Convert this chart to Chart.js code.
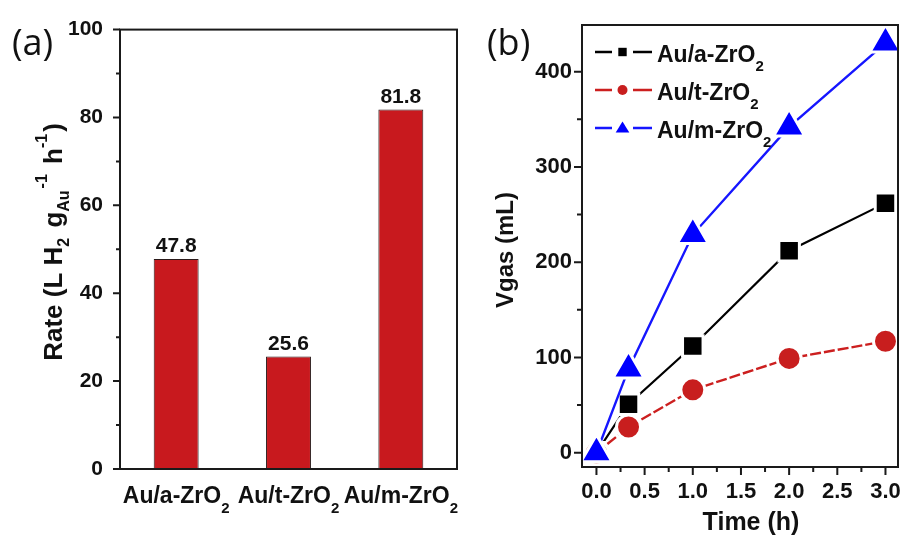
<!DOCTYPE html>
<html><head><meta charset="utf-8">
<script src="https://cdn.jsdelivr.net/npm/chart.js@4.4.1/dist/chart.umd.min.js"></script>
<style>
html,body{margin:0;padding:0;background:#fff;overflow:hidden;width:919px;height:535px}
#ca{position:absolute;left:0;top:0}
#cb{position:absolute;left:460px;top:0}
</style></head><body>
<canvas id="ca" width="460" height="535"></canvas>
<canvas id="cb" width="459" height="535"></canvas>
<script>
// ---- data: panel (a) ----
const categories = ['Au/a-ZrO₂', 'Au/t-ZrO₂', 'Au/m-ZrO₂'];
const rates = [47.8, 25.6, 81.8];
const rateTicks = [0, 20, 40, 60, 80, 100];
const rateMinorTicks = [10, 30, 50, 70, 90];
// ---- data: panel (b) ----
const seriesNames = ['Au/a-ZrO₂', 'Au/t-ZrO₂', 'Au/m-ZrO₂'];
const times = [0, 0.333, 1, 2, 3];
const vgasA = [0, 51, 112, 212, 262];
const vgasT = [0, 27, 66, 99, 117];
const vgasM = [0, 88, 229, 342, 430];
const timeTicks = [0, 0.5, 1, 1.5, 2, 2.5, 3];
const timeMinorTicks = [0.25, 0.75, 1.25, 1.75, 2.25, 2.75];
const vgasTicks = [0, 100, 200, 300, 400];
const vgasMinorTicks = [50, 150, 250, 350];

const FONT = '"Liberation Sans", Arial, sans-serif';
const INK = '#111';
const AXIS = '#1a1a1a';

function parseRich(str) {
  const parts = []; let buf = '';
  for (const ch of str) {
    if (ch === '₂') { if (buf) parts.push({t: buf, k: 'n'}); buf = ''; parts.push({t: '2', k: 'sub'}); }
    else buf += ch;
  }
  if (buf) parts.push({t: buf, k: 'n'});
  return parts;
}
function drawRich(ctx, parts, x, y, size, align, opts) {
  opts = opts || {};
  const small = Math.round(size * (opts.smallRatio || 0.65));
  const subOff = size * (opts.sub || 0.4), supOff = size * (opts.sup || 0.5);
  const fontOf = p => `bold ${p.k === 'n' ? size : small}px ${FONT}`;
  let w = 0;
  for (const p of parts) { ctx.font = fontOf(p); w += ctx.measureText(p.t).width + (p.gap || 0); }
  let cx = align === 'center' ? x - w / 2 : (align === 'right' ? x - w : x);
  ctx.fillStyle = INK; ctx.textBaseline = 'alphabetic'; ctx.textAlign = 'left';
  for (const p of parts) {
    ctx.font = fontOf(p);
    const dy = p.k === 'sub' ? subOff : (p.k === 'sup' ? -supOff : 0);
    ctx.fillText(p.t, cx, y + dy);
    cx += ctx.measureText(p.t).width + (p.gap || 0);
  }
}
function frameAndTicks(ctx, a, xs, ys, spec) {
  ctx.save();
  ctx.strokeStyle = AXIS; ctx.lineWidth = 2;
  ctx.strokeRect(a.left, a.top, a.right - a.left, a.bottom - a.top);
  ctx.beginPath();
  if (spec.yMajor) spec.yMajor.forEach(v => { const y = ys.getPixelForValue(v); ctx.moveTo(a.left - spec.yLen, y); ctx.lineTo(a.left, y); });
  if (spec.yMinor) spec.yMinor.forEach(v => { const y = ys.getPixelForValue(v); ctx.moveTo(a.left - spec.yLenMinor, y); ctx.lineTo(a.left, y); });
  if (spec.xMajor) spec.xMajor.forEach(v => { const x = xs.getPixelForValue(v); ctx.moveTo(x, a.bottom); ctx.lineTo(x, a.bottom + spec.xLen); });
  if (spec.xMinor) spec.xMinor.forEach(v => { const x = xs.getPixelForValue(v); ctx.moveTo(x, a.bottom); ctx.lineTo(x, a.bottom + spec.xLenMinor); });
  ctx.stroke();
  ctx.restore();
}

// ---------------- Panel (a) ----------------
const panelA = {
  id: 'panelA',
  afterDraw(chart) {
    const ctx = chart.ctx, a = chart.chartArea, xs = chart.scales.x, ys = chart.scales.y;
    frameAndTicks(ctx, a, xs, ys, {yMajor: rateTicks, yMinor: rateMinorTicks, yLen: 7, yLenMinor: 4});
    ctx.save();
    // value labels
    const meta = chart.getDatasetMeta(0);
    ctx.font = `bold 21px ${FONT}`; ctx.fillStyle = INK; ctx.textAlign = 'center'; ctx.textBaseline = 'alphabetic';
    meta.data.forEach((el, i) => ctx.fillText(rates[i].toFixed(1), el.x, el.y - 7));
    // category labels
    categories.forEach((c, i) => drawRich(ctx, parseRich(c), xs.getPixelForValue(i), 503, 23, 'center', {sub: 0.44}));
    // y title
    ctx.save();
    ctx.translate(62, 242);
    ctx.rotate(-Math.PI / 2);
    drawRich(ctx, [
      {t: 'Rate (L H', k: 'n'}, {t: '2', k: 'sub', gap: 3}, {t: ' g', k: 'n'}, {t: 'Au', k: 'sub', gap: 2},
      {t: '-1', k: 'sup', gap: 3}, {t: ' h', k: 'n'}, {t: '-1', k: 'sup', gap: 2}, {t: ')', k: 'n'}
    ], 0, 0, 26, 'center', {sub: 0.26, sup: 0.58, smallRatio: 0.62});
    ctx.restore();
    // panel letter
    ctx.font = `36px "Open Sans", "Noto Sans", sans-serif`; ctx.fillStyle = INK; ctx.textAlign = 'left';
    ctx.fillText('(a)', 12, 55);
    ctx.restore();
  }
};

new Chart(document.getElementById('ca'), {
  type: 'bar',
  data: {
    labels: categories,
    datasets: [{
      data: rates,
      backgroundColor: '#c8191e',
      borderColor: '#2a1a1a',
      borderWidth: 1,
      barPercentage: 0.4,
      categoryPercentage: 1.0
    }]
  },
  options: {
    responsive: false,
    animation: false,
    layout: {padding: {left: 0, top: 25, right: 3, bottom: 0}},
    plugins: {legend: {display: false}, tooltip: {enabled: false}},
    scales: {
      x: {
        grid: {display: false}, border: {display: false},
        ticks: {display: false},
        afterFit: s => { s.height = 66; }
      },
      y: {
        min: 0, max: 100,
        grid: {display: false, drawTicks: false}, border: {display: false},
        afterBuildTicks: s => { s.ticks = rateTicks.map(v => ({value: v})); },
        ticks: {font: {family: FONT, size: 21, weight: 'bold'}, color: INK, padding: 17},
        afterFit: s => { s.width = 120; }
      }
    }
  },
  plugins: [panelA]
});

// ---------------- Panel (b) ----------------
const styles = [
  {line: '#000000', fill: '#000000', point: 'rect', r: 14.5, dash: [], lw: 2.2},
  {line: '#cc1f1f', fill: '#c81e1e', point: 'circle', r: 12, dash: [11, 3], lw: 2.4},
  {line: '#1616ff', fill: '#0000ff', point: 'triangle', r: 18, dash: [], lw: 2.4}
];
const seriesValues = [vgasA, vgasT, vgasM];

function legendMarker(ctx, kind, x, y, color) {
  ctx.fillStyle = color;
  ctx.beginPath();
  if (kind === 'rect') ctx.rect(x - 4.2, y - 4.2, 8.4, 8.4);
  else if (kind === 'circle') ctx.arc(x, y, 5, 0, Math.PI * 2);
  else { ctx.moveTo(x, y - 6.5); ctx.lineTo(x + 6.8, y + 4.5); ctx.lineTo(x - 6.8, y + 4.5); ctx.closePath(); }
  ctx.fill();
}

const panelB = {
  id: 'panelB',
  afterDraw(chart) {
    const ctx = chart.ctx, a = chart.chartArea, xs = chart.scales.x, ys = chart.scales.y;
    frameAndTicks(ctx, a, xs, ys, {
      yMajor: vgasTicks, yMinor: vgasMinorTicks, yLen: 8, yLenMinor: 5,
      xMajor: timeTicks, xMinor: timeMinorTicks, xLen: 8, xLenMinor: 5
    });
    ctx.save();
    // legend
    seriesNames.forEach((name, i) => {
      const st = styles[i];
      const ly = 52 + 38 * i;
      ctx.strokeStyle = st.line; ctx.lineWidth = 2.4; ctx.setLineDash([]);
      ctx.beginPath();
      ctx.moveTo(135, ly); ctx.lineTo(152, ly);
      ctx.moveTo(173, ly); ctx.lineTo(192, ly);
      ctx.stroke();
      legendMarker(ctx, st.point, 162.5, ly, st.fill);
      drawRich(ctx, parseRich(name), 197, ly + 10, 23, 'left', {sub: 0.38});
    });
    // axis titles
    ctx.font = `bold 25px ${FONT}`; ctx.fillStyle = INK; ctx.textAlign = 'center'; ctx.textBaseline = 'alphabetic';
    ctx.fillText('Time (h)', 291, 530);
    ctx.save();
    ctx.translate(53, 250);
    ctx.rotate(-Math.PI / 2);
    ctx.font = `bold 24px ${FONT}`;
    ctx.fillText('Vgas (mL)', 0, 0);
    ctx.restore();
    ctx.font = `36px "Open Sans", "Noto Sans", sans-serif`; ctx.textAlign = 'left';
    ctx.fillText('(b)', 27, 55);
    ctx.restore();
  }
};

new Chart(document.getElementById('cb'), {
  type: 'line',
  data: {
    datasets: seriesValues.map((vals, i) => ({
      label: seriesNames[i],
      data: times.map((t, j) => ({x: t, y: vals[j]})),
      borderColor: styles[i].line,
      borderWidth: styles[i].lw,
      borderDash: styles[i].dash,
      pointStyle: styles[i].point,
      pointRadius: styles[i].r,
      pointBackgroundColor: styles[i].fill,
      pointBorderColor: '#ffffff',
      pointBorderWidth: 3,
      tension: 0,
      fill: false,
      clip: false,
      order: [2, 1, 0][i]
    }))
  },
  options: {
    responsive: false,
    animation: false,
    layout: {padding: {left: 0, top: 25, right: 2, bottom: 0}},
    plugins: {legend: {display: false}, tooltip: {enabled: false}},
    scales: {
      x: {
        type: 'linear', position: 'bottom', min: -0.15, max: 3.13,
        grid: {display: false, drawTicks: false}, border: {display: false},
        afterBuildTicks: s => { s.ticks = timeTicks.map(v => ({value: v})); },
        ticks: {font: {family: FONT, size: 22, weight: 'bold'}, color: INK, padding: 12, maxRotation: 0,
                callback: v => Number(v).toFixed(1)},
        afterFit: s => { s.height = 68; }
      },
      y: {
        type: 'linear', min: -15, max: 449,
        grid: {display: false, drawTicks: false}, border: {display: false},
        afterBuildTicks: s => { s.ticks = vgasTicks.map(v => ({value: v})); },
        ticks: {font: {family: FONT, size: 22, weight: 'bold'}, color: INK, padding: 10,
                callback: v => String(v)},
        afterFit: s => { s.width = 122; }
      }
    }
  },
  plugins: [panelB]
});
</script>
</body></html>
